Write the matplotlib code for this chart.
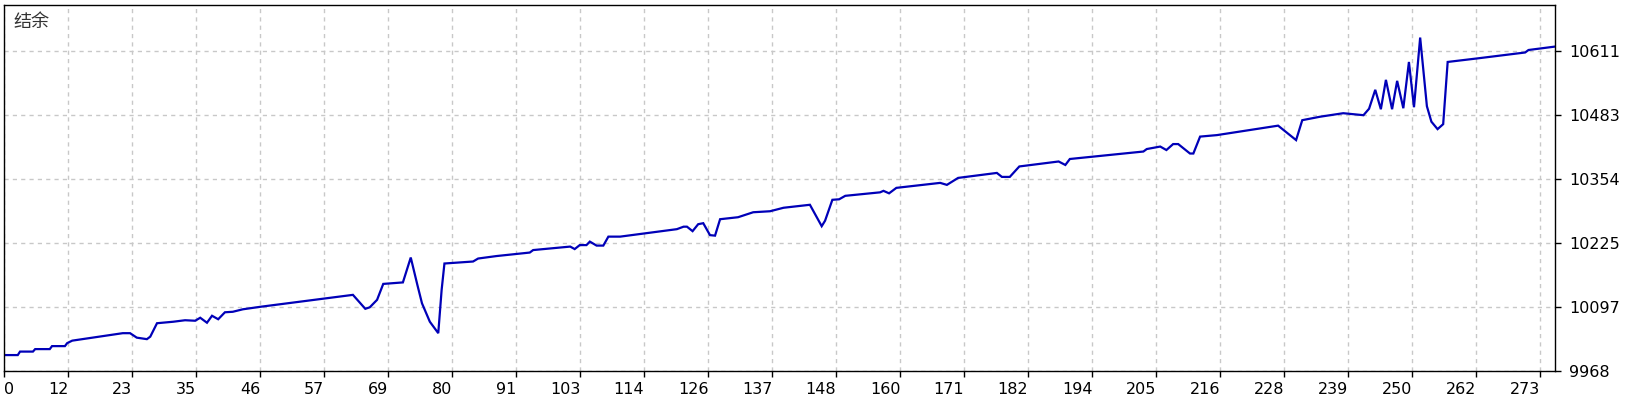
import numpy as np
import matplotlib.pyplot as plt
from matplotlib.ticker import FixedLocator

plt.rcParams['font.family'] = ['DejaVu Sans', 'Noto Sans CJK SC']

# 结余曲线的转折点（交易序号, 余额）
trade_idx = [0, 2.4, 2.8, 5.1, 5.5, 8.1, 8.5, 10.8, 11.2, 12.1, 21.1, 22.4, 23.6, 25.4,
             26.0, 27.2, 30.1, 32.2, 34.0, 34.9, 36.1, 37.0, 38.1, 39.3, 40.7, 42.5,
             45.6, 62.1, 64.3, 65.1, 66.4, 67.5, 71.0, 72.4, 73.6, 74.4, 75.8, 77.3, 77.9,
             78.4, 83.5, 84.4, 87.7, 93.6, 94.2, 100.8, 101.6, 102.5, 103.7, 104.3,
             105.5, 106.7, 107.6, 109.7, 119.8, 121.0, 121.6, 122.6, 123.6, 124.5,
             125.7, 126.6, 127.5, 130.7, 133.4, 136.4, 138.8, 143.5, 145.6, 146.2,
             147.5, 148.7, 149.8, 156.0, 156.6, 157.6, 158.9, 166.7, 167.9, 169.9,
             176.8, 177.7, 179.1, 180.8, 187.8, 189.0, 189.8, 202.9, 203.5, 205.9,
             207.0, 208.2, 209.1, 211.2, 211.8, 213.0, 216.0, 226.9, 230.1, 231.2,
             234.4, 238.5, 242.1, 243.1, 244.2, 245.2, 246.1, 247.2, 248.1, 249.2,
             250.2, 251.1, 252.2, 253.4, 254.2, 255.3, 256.3, 257.1, 262.3, 270.9,
             271.5, 276.3]
balance = [10000, 10000, 10007, 10007, 10012, 10012, 10018, 10018, 10024, 10029, 10044,
           10044, 10035, 10032, 10037, 10064, 10067, 10070, 10069, 10075, 10065, 10079,
           10072, 10086, 10087, 10092, 10097, 10121, 10093, 10096, 10111, 10143, 10146,
           10196, 10140, 10104, 10067, 10044, 10131, 10184, 10188, 10194, 10199, 10206, 10211,
           10218, 10213, 10221, 10221, 10228, 10220, 10220, 10238, 10238, 10253, 10258,
           10258, 10249, 10263, 10265, 10241, 10240, 10273, 10277, 10287, 10289, 10296,
           10302, 10259, 10270, 10312, 10313, 10320, 10327, 10330, 10325, 10336, 10346,
           10342, 10356, 10366, 10358, 10358, 10379, 10389, 10382, 10394, 10409, 10414,
           10419, 10412, 10424, 10424, 10405, 10405, 10439, 10442, 10461, 10432, 10472,
           10479, 10486, 10482, 10495, 10533, 10494, 10553, 10494, 10551, 10496, 10589,
           10498, 10638, 10500, 10469, 10454, 10464, 10589, 10596, 10608, 10613, 10620]

x_labels = ['0', '12', '23', '35', '46', '57', '69', '80', '91', '103', '114', '126',
            '137', '148', '160', '171', '182', '194', '205', '216', '228', '239', '250',
            '262', '273']
y_labels = ['9968', '10097', '10225', '10354', '10483', '10611']

x_step = 11.4
y_step = 128.6
x_ticks = [i * x_step for i in range(len(x_labels))]
y_ticks = [9968 + i * y_step for i in range(len(y_labels))]

fig = plt.figure(figsize=(16.4, 4.0), dpi=100)
ax = fig.add_axes([4.3 / 1640, 1 - 371 / 400, (1555 - 4.3) / 1640, (371 - 4.5) / 400])

ax.plot(trade_idx, balance, color='#0000b8', lw=1.6, solid_joinstyle='miter')

ax.set_xlim(0, (1555 - 4.3) / 64 * x_step)
ax.set_ylim(9968, 9968 + (371 - 4.5) / 64 * y_step)

ax.xaxis.set_major_locator(FixedLocator(x_ticks))
ax.set_xticklabels(x_labels)
ax.yaxis.set_major_locator(FixedLocator(y_ticks))
ax.set_yticklabels(y_labels)
ax.yaxis.tick_right()

ax.tick_params(axis='both', direction='out', length=4, width=1, color='black',
               labelsize=11.5, labelcolor='black')
ax.tick_params(axis='x', pad=4)
ax.tick_params(axis='y', pad=6)
for i, lab in enumerate(ax.get_xticklabels()):
    lab.set_horizontalalignment('left' if i == 0 else 'right')

ax.grid(True, color='#c8c8c8', linestyle=(0, (3, 3)), linewidth=1)
ax.set_axisbelow(True)
for s in ax.spines.values():
    s.set_color('black')
    s.set_linewidth(1)

ax.text(0.006, 0.953, '结余', transform=ax.transAxes, ha='left', va='center',
        fontsize=13, color='#333333', family=['Noto Sans CJK SC', 'DejaVu Sans'])

fig.savefig('out.png', dpi=100, facecolor='white')
